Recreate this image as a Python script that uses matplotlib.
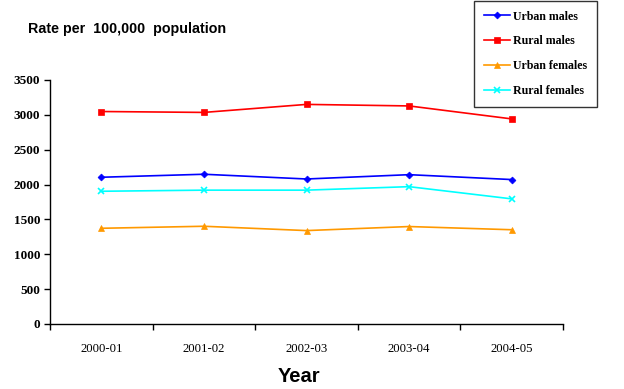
import matplotlib
matplotlib.use("Agg")
import matplotlib.pyplot as plt
import numpy as np

years = ["2000-01", "2001-02", "2002-03", "2003-04", "2004-05"]
urban_males = [2105, 2148, 2080, 2142, 2072]
rural_males = [3048, 3035, 3150, 3128, 2942]
urban_females = [1373, 1402, 1340, 1398, 1352]
rural_females = [1904, 1920, 1920, 1970, 1795]
yticks = [0, 500, 1000, 1500, 2000, 2500, 3000, 3500]

fig = plt.figure(figsize=(6.24, 3.89), dpi=100)
ax = fig.add_axes([50/624, 1-324/389, (563-50)/624, (324-80)/389])
x = np.arange(len(years))

series = [
    ("Urban males", urban_males, "#0000FF", "D", 3.5),
    ("Rural males", rural_males, "#FF0000", "s", 5),
    ("Urban females", urban_females, "#FF9900", "^", 5),
    ("Rural females", rural_females, "#00FFFF", "x", 5),
]
handles = []
for name, vals, col, m, ms in series:
    h, = ax.plot(x, vals, color=col, marker=m, markersize=ms, linewidth=1.2,
                 markeredgewidth=1.2 if m == "x" else 0.5, markeredgecolor=col, label=name)
    handles.append(h)

ax.set_xlim(-0.5, len(years) - 0.5)
ax.set_ylim(0, 3500)
ax.set_yticks(yticks)
ax.set_yticklabels([str(v) for v in yticks], family="Liberation Serif", fontweight="bold", fontsize=9.5)
ax.set_xticks(x)
ax.set_xticklabels(years, family="Liberation Serif", fontsize=9.2)
ax.set_xticks(np.arange(-0.5, len(years)), minor=True)
ax.tick_params(axis="x", which="major", length=0, pad=14)
ax.tick_params(axis="x", which="minor", length=4, width=1, direction="out")
ax.tick_params(axis="y", length=4, width=1, direction="out", pad=3)
for s in ["top", "right"]:
    ax.spines[s].set_visible(False)
for s in ["left", "bottom"]:
    ax.spines[s].set_linewidth(1)
    ax.spines[s].set_color("black")

fig.text(28/624, 1-29/389, "Rate per  100,000  population", family="Liberation Sans",
         fontweight="bold", fontsize=10.3, va="center", ha="left")
fig.text(299/624, 1-376/389, "Year", family="Liberation Sans", fontweight="bold",
         fontsize=14.5, va="center", ha="center")

leg = fig.legend(handles=handles, loc="upper left", bbox_to_anchor=(474/624, 1-1/389),
                 prop={"family": "Liberation Serif", "weight": "bold", "size": 8.6},
                 frameon=True, fancybox=False, edgecolor="black", borderpad=0.8,
                 borderaxespad=0, labelspacing=1.08, handlelength=2.2, handletextpad=0.3)
leg.get_frame().set_linewidth(1)

fig.savefig("out.png", dpi=100)
